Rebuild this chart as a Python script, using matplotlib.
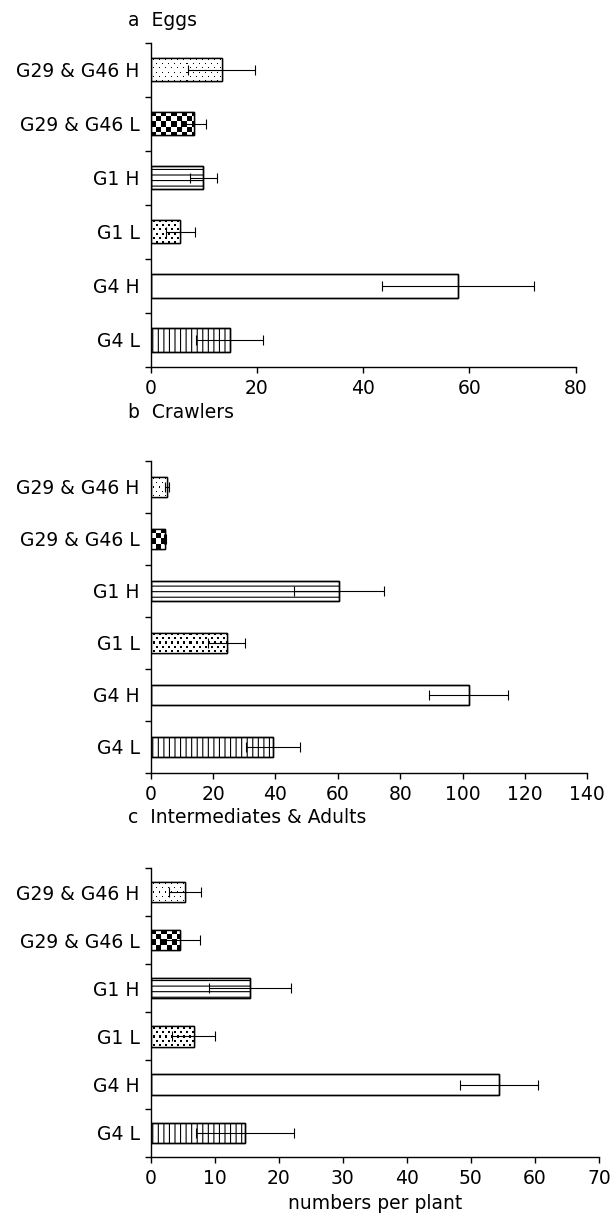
import numpy as np
import matplotlib
matplotlib.use("Agg")
import matplotlib.pyplot as plt
from matplotlib.ticker import FixedLocator

plt.rcParams['font.family'] = ['DejaVu Sans']
plt.rcParams['hatch.linewidth'] = 0.8

categories = ["G29 & G46 H", "G29 & G46 L", "G1 H", "G1 L", "G4 H", "G4 L"]
patterns = ["dots_sparse", "checker", "hlines", "dots_dense", "none", "vlines"]

eggs_mean = [13.4, 8.1, 9.9, 5.6, 57.8, 14.9]
eggs_err = [6.3, 2.4, 2.5, 2.8, 14.3, 6.3]

crawlers_mean = [5.3, 4.7, 60.4, 24.4, 102.0, 39.3]
crawlers_err = [0.7, 0.3, 14.4, 5.9, 12.7, 8.7]

adults_mean = [5.4, 4.6, 15.5, 6.7, 54.4, 14.7]
adults_err = [2.5, 3.1, 6.4, 3.3, 6.1, 7.6]

panel_titles = ["a  Eggs", "b  Crawlers", "c  Intermediates & Adults"]
xmax = [80, 140, 70]
xstep = [20, 20, 10]
xlabel = "numbers per plant"

FS = 13.5
W, H = 611, 1225
fig = plt.figure(figsize=(W / 100, H / 100), dpi=100)

# axes boxes in pixels: left, right, top, bottom
boxes = [(150.7, 575.7, 42.7, 367.0),
         (150.7, 587.3, 460.7, 772.7),
         (150.7, 599.0, 868.0, 1156.7)]
bar_h = [0.43, 0.39, 0.42]
title_base = [26.5, 418.0, 823.0]

def texture(kind, w, h):
    yy, xx = np.mgrid[0:h, 0:w]
    if kind == "checker":
        mask = ((xx // 5 + yy // 5) % 2 == 0)
    elif kind == "dots_sparse":
        row = yy // 4
        off = (row % 2) * 3
        mask = ((yy % 4) == 2) & (((xx + off) % 6) == 2)
    elif kind == "dots_dense":
        row = yy // 4
        off = (row % 2) * 3
        mask = ((yy % 4) >= 1) & ((yy % 4) <= 2) & (((xx + off) % 6) >= 2) & (((xx + off) % 6) <= 3)
    else:
        mask = np.zeros((h, w), bool)
    return np.where(mask, 0.0, 1.0)

datasets = [(eggs_mean, eggs_err), (crawlers_mean, crawlers_err), (adults_mean, adults_err)]

for i, (means, errs) in enumerate(datasets):
    l, r, t, b = boxes[i]
    ax = fig.add_axes([l / W, 1 - b / H, (r - l) / W, (b - t) / H])
    y = np.arange(len(categories))
    ax.set_xlim(0, xmax[i])
    ax.set_ylim(len(categories) - 0.5, -0.5)
    hatches = [{"hlines": "---", "vlines": "|||"}.get(p, None) for p in patterns]
    bars = ax.barh(y, means, height=bar_h[i], color="white", edgecolor="black",
                   linewidth=1.0, zorder=1)
    for bar, p, hp in zip(bars, patterns, hatches):
        if hp:
            bar.set_hatch(hp)
        if p in ("checker", "dots_sparse", "dots_dense"):
            x0, y0 = bar.get_x(), bar.get_y()
            bw, bh = bar.get_width(), bar.get_height()
            (px0, py0), (px1, py1) = ax.transData.transform([(x0, y0), (x0 + bw, y0 + bh)])
            tw, th = int(round(abs(px1 - px0))), int(round(abs(py1 - py0)))
            img = texture(p, max(tw, 1), max(th, 1))
            im = ax.imshow(img, cmap="gray", vmin=0, vmax=1, aspect="auto",
                           extent=(x0, x0 + bw, y0 + bh, y0), interpolation="nearest",
                           zorder=1.5)
            im.set_clip_path(bar)
    ax.barh(y, means, height=bar_h[i], fill=False, edgecolor="black", linewidth=1.0, zorder=2)
    ax.errorbar(means, y, xerr=errs, fmt="none", ecolor="black", elinewidth=0.8,
                capsize=3.6, capthick=0.8, zorder=3)
    ax.set_xlim(0, xmax[i])
    ax.set_ylim(len(categories) - 0.5, -0.5)
    ax.set_xticks(np.arange(0, xmax[i] + 1, xstep[i]))
    ax.set_yticks(y)
    ax.set_yticklabels(categories)
    ax.yaxis.set_minor_locator(FixedLocator(np.arange(-0.5, len(categories), 1.0)))
    ax.tick_params(axis="y", which="major", length=0, pad=8, labelsize=FS)
    ax.tick_params(axis="y", which="minor", length=4, width=1.0, direction="out")
    ax.tick_params(axis="x", which="major", length=4, width=1.0, direction="out",
                   pad=5, labelsize=FS)
    for s in ("top", "right"):
        ax.spines[s].set_visible(False)
    for s in ("left", "bottom"):
        ax.spines[s].set_linewidth(1.0)
    fig.text(128 / W, 1 - title_base[i] / H, panel_titles[i], fontsize=FS,
             ha="left", va="baseline")
    if i == 2:
        ax.set_xlabel(xlabel, fontsize=FS, labelpad=4)

fig.savefig("out.png", dpi=100)
